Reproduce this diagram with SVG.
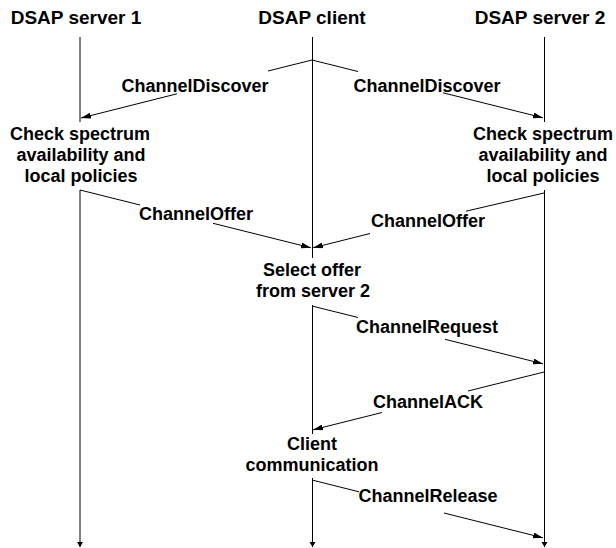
<svg xmlns="http://www.w3.org/2000/svg" width="616" height="548" viewBox="0 0 616 548">
<style>
  text { font-family: "Liberation Sans", Arial, sans-serif; font-weight: bold; font-size: 18px; fill: #000; text-anchor: middle; }
  .hdr { font-size: 19px; }
  .life { stroke: #000; stroke-width: 1; fill: none; }
  .msg { stroke: #000; stroke-width: 1; fill: none; marker-end: url(#ah); }
</style>
<defs>
  <marker id="ah" viewBox="0 0 10 6" refX="10" refY="3" markerWidth="10" markerHeight="6" markerUnits="userSpaceOnUse" orient="auto">
    <path d="M0,0 L10,3 L0,6 Z" fill="#000"/>
  </marker>
</defs>
<rect width="616" height="548" fill="#fff"/>

<g id="server1">
  <text class="hdr" x="76" y="24">DSAP server 1</text>
  <text x="80" y="140">Check spectrum</text>
  <text x="81" y="161">availability and</text>
  <text x="81" y="182">local policies</text>
</g>
<g id="client">
  <text class="hdr" x="312" y="24">DSAP client</text>
  <text x="312" y="276">Select offer</text>
  <text x="313" y="297">from server 2</text>
  <text x="312" y="450">Client</text>
  <text x="312" y="471">communication</text>
</g>
<g id="server2">
  <text class="hdr" x="540" y="24">DSAP server 2</text>
  <text x="543" y="140">Check spectrum</text>
  <text x="543" y="161">availability and</text>
  <text x="543" y="182">local policies</text>
</g>

<g id="lifelines">
  <path class="life" d="M80,37 V122 M80,190 V547"/>
  <path class="life" d="M312.5,37 V258 M312.5,305 V434 M312.5,478 V547"/>
  <path class="life" d="M544.5,37 V122 M544.5,190 V547"/>
  <path d="M77,542 H83 L80,547 Z" fill="#000"/>
  <path d="M309.5,542 H315.5 L312.5,547 Z" fill="#000"/>
  <path d="M541.5,542 H547.5 L544.5,547 Z" fill="#000"/>
</g>

<g id="connectors">
  <path class="msg" d="M312,60 L268,71 M177,93.8 L81,118"/>
  <path class="msg" d="M312,60 L358,71.5 M443,92.8 L543,117.8"/>
  <path class="msg" d="M80,190 L140,205 M213,223.3 L311,247.8"/>
  <path class="msg" d="M544,193 L466,211.2 M370,233.5 L313,247.8"/>
  <path class="msg" d="M312,306 L358,317.5 M445,339.3 L543,363.8"/>
  <path class="msg" d="M544,372 L468,391 M382,412.5 L313,429.8"/>
  <path class="msg" d="M312,480 L359,491.8 M444,513 L543,537.8"/>
</g>
<g id="labels">
  <text x="195" y="92">ChannelDiscover</text>
  <text x="427" y="92">ChannelDiscover</text>
  <text x="196" y="220">ChannelOffer</text>
  <text x="428" y="227">ChannelOffer</text>
  <text x="427" y="333">ChannelRequest</text>
  <text x="428" y="408">ChannelACK</text>
  <text x="428" y="502">ChannelRelease</text>
</g>
</svg>
